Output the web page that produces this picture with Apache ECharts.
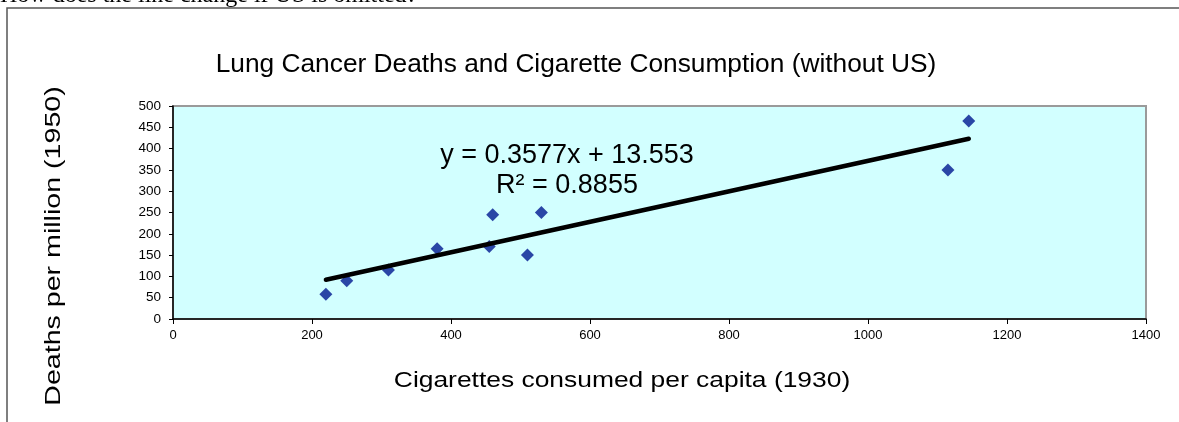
<!DOCTYPE html>
<html>
<head>
<meta charset="utf-8">
<script src="https://cdn.jsdelivr.net/npm/echarts@6/dist/echarts.min.js"></script>
<style>
  html, body { margin: 0; padding: 0; background: #fff; }
  #chart { width: 1179px; height: 422px; }
</style>
</head>
<body>
<div id="chart"></div>
<script>
// Cigarettes consumed per capita in 1930 and lung cancer deaths per million in 1950
const cigarettes = [220, 250, 310, 380, 455, 460, 510, 530, 1115, 1145];
const deaths = [58, 90, 115, 165, 170, 245, 150, 250, 350, 465];

// Least-squares fit as stated in the equation label
const slope = 0.3577;
const intercept = 13.553;
const rSquared = 0.8855;

const xTicks = [0, 200, 400, 600, 800, 1000, 1200, 1400];
const yTicks = [0, 50, 100, 150, 200, 250, 300, 350, 400, 450, 500];

const points = cigarettes.map((x, i) => [x, deaths[i]]);
const xMin = Math.min(...cigarettes);
const xMax = Math.max(...cigarettes);
const fitLine = [xMin, xMax].map(x => [x, slope * x + intercept]);

const chart = echarts.init(document.getElementById('chart'), null, { renderer: 'canvas' });

const font = 'Arial, "Liberation Sans", sans-serif';

chart.setOption({
  animation: false,
  backgroundColor: '#ffffff',
  grid: {
    left: 173, right: 33, top: 106, bottom: 103,
    show: true,
    backgroundColor: '#D2FFFF',
    borderColor: '#9a9a9a',
    borderWidth: 2
  },
  xAxis: {
    type: 'value',
    min: xTicks[0],
    max: xTicks[xTicks.length - 1],
    interval: xTicks[1] - xTicks[0],
    axisLine: { show: true, onZero: false, lineStyle: { color: '#000', width: 1.5 } },
    axisTick: { show: true, inside: false, length: 5, lineStyle: { color: '#000' } },
    axisLabel: { color: '#000', fontSize: 13, fontFamily: font, margin: 10, formatter: v => String(v) },
    splitLine: { show: false }
  },
  yAxis: {
    type: 'value',
    min: yTicks[0],
    max: yTicks[yTicks.length - 1],
    interval: yTicks[1] - yTicks[0],
    axisLine: { show: true, onZero: false, lineStyle: { color: '#000', width: 1.5 } },
    axisTick: { show: true, inside: false, length: 4, lineStyle: { color: '#000' } },
    axisLabel: { color: '#000', fontSize: 13.5, fontFamily: font, margin: 12, formatter: v => String(v) },
    splitLine: { show: false }
  },
  series: [
    {
      type: 'scatter',
      data: points,
      symbol: 'diamond',
      symbolSize: 13,
      itemStyle: { color: '#001890' },
      z: 2
    },
    {
      type: 'line',
      data: fitLine,
      symbol: 'none',
      lineStyle: { color: '#000', width: 4.5, cap: 'round' },
      z: 3
    }
  ],
  graphic: [
    // framing rules
    {
      type: 'polyline',
      shape: { points: [[7, 422], [7, 8], [1179, 8]] },
      style: { stroke: '#555', lineWidth: 1.5, fill: null },
      z: 10
    },
    {
      type: 'text',
      style: {
        text: 'How does the line change if US is omitted?',
        x: 0, y: -4,
        font: '24px "Liberation Serif", "Times New Roman", serif',
        fill: '#000',
        align: 'left',
        verticalAlign: 'middle'
      },
      z: 9
    },
    {
      type: 'text',
      style: {
        text: 'Lung Cancer Deaths and Cigarette Consumption (without US)',
        x: 576, y: 65,
        font: '26.3px ' + font,
        fill: '#000',
        align: 'center',
        verticalAlign: 'middle'
      }
    },
    {
      type: 'text',
      style: {
        text: 'y = ' + slope + 'x + ' + intercept,
        x: 567, y: 156,
        font: '27px ' + font,
        fill: '#000',
        align: 'center',
        verticalAlign: 'middle'
      },
      z: 5
    },
    {
      type: 'text',
      style: {
        text: 'R² = ' + rSquared,
        x: 567, y: 186,
        font: '27px ' + font,
        fill: '#000',
        align: 'center',
        verticalAlign: 'middle'
      },
      z: 5
    },
    {
      type: 'text',
      x: 622, y: 381,
      scaleX: 1.2,
      style: {
        text: 'Cigarettes consumed per capita (1930)',
        x: 0, y: 0,
        font: '22px ' + font,
        fill: '#000',
        align: 'center',
        verticalAlign: 'middle'
      }
    },
    {
      type: 'text',
      x: 54, y: 246,
      rotation: Math.PI / 2,
      scaleX: 1.3,
      style: {
        text: 'Deaths per million (1950)',
        x: 0, y: 0,
        font: '22px ' + font,
        fill: '#000',
        align: 'center',
        verticalAlign: 'middle'
      }
    }
  ]
});
</script>
</body>
</html>
